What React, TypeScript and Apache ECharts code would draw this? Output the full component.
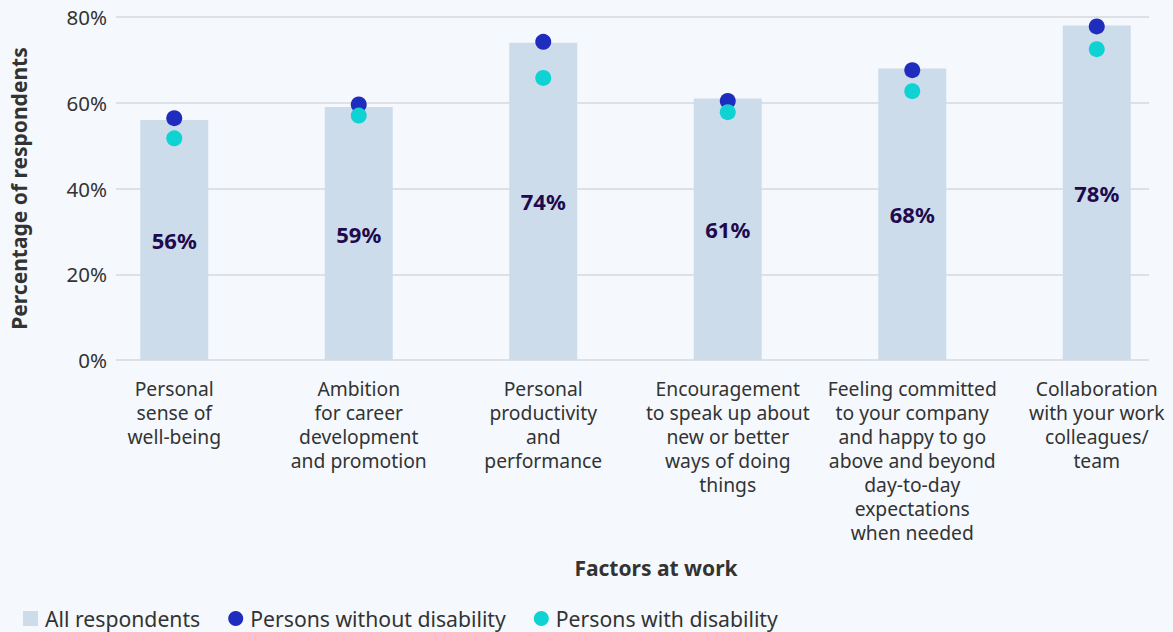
import React, { useEffect, useRef } from "react";
import * as echarts from "echarts";

const categories = [
  "Personal\nsense of\nwell-being",
  "Ambition\nfor career\ndevelopment\nand promotion",
  "Personal\nproductivity\nand\nperformance",
  "Encouragement\nto speak up about\nnew or better\nways of doing\nthings",
  "Feeling committed\nto your company\nand happy to go\nabove and beyond\nday-to-day\nexpectations\nwhen needed",
  "Collaboration\nwith your work\ncolleagues/\nteam",
];
const allRespondents = [56, 59, 74, 61, 68, 78];
const withoutDisability = [56.4, 59.6, 74.2, 60.4, 67.6, 77.8];
const withDisability = [51.7, 57.0, 65.8, 57.8, 62.7, 72.5];
const yTicks = [0, 20, 40, 60, 80];

const FONT = "'Noto Sans', sans-serif";
const W = 1210;

export default function App() {
  const ref = useRef<HTMLDivElement>(null);
  useEffect(() => {
    if (!ref.current) return;
    const chart = echarts.init(ref.current, null, { renderer: "svg" });
    const top = 17;
    const bottom = 632 - 360;
    chart.setOption({
      animation: false,
      backgroundColor: "#f5f9fd",
      textStyle: { fontFamily: FONT },
      grid: [
        { left: 116, right: W - 1149, top, bottom },
        { left: 82, right: W - 1189, top, bottom },
      ],
      legend: {
        left: 18,
        top: 603,
        itemWidth: 15,
        itemHeight: 15,
        itemGap: 28,
        textStyle: {
          fontSize: 21.2,
          color: "#333333",
          fontFamily: FONT,
          padding: [0, 0, 0, 2],
        },
        data: [
          { name: "All respondents", icon: "rect" },
          { name: "Persons without disability", icon: "circle" },
          { name: "Persons with disability", icon: "circle" },
        ],
      },
      graphic: [
        {
          type: "text",
          x: 656,
          y: 568,
          style: {
            text: "Factors at work",
            fontFamily: FONT,
            fontSize: 21,
            fontWeight: "bold",
            fill: "#333333",
            align: "center",
            verticalAlign: "middle",
          },
        },
      ],
      xAxis: [
        {
          type: "category",
          gridIndex: 0,
          data: categories,
          show: false,
        },
        {
          type: "category",
          gridIndex: 1,
          data: categories,
          axisLine: { show: false },
          axisTick: { show: false },
          axisLabel: {
            interval: 0,
            fontSize: 19.3,
            lineHeight: 24,
            color: "#333333",
            margin: 16,
            fontFamily: FONT,
          },
        },
      ],
      yAxis: [
        {
          type: "value",
          gridIndex: 0,
          min: 0,
          max: 80,
          interval: 20,
          name: "Percentage of respondents",
          nameLocation: "middle",
          nameGap: 87,
          nameTextStyle: { fontSize: 21, fontWeight: "bold", color: "#333333", fontFamily: FONT },
          axisLabel: {
            formatter: (v: number) => (yTicks.includes(v) ? v + "%" : ""),
            fontSize: 20.5,
            color: "#333333",
            margin: 9,
            fontFamily: FONT,
          },
          axisLine: { show: false },
          axisTick: { show: false },
          splitLine: { lineStyle: { color: "#d5d8dd", width: 1.5 } },
        },
        {
          type: "value",
          gridIndex: 1,
          min: 0,
          max: 80,
          interval: 20,
          show: false,
          splitLine: { show: false },
        },
      ],
      series: [
        {
          name: "All respondents",
          type: "bar",
          xAxisIndex: 1,
          yAxisIndex: 1,
          data: allRespondents,
          barWidth: 68,
          itemStyle: { color: "#cddcea" },
          label: {
            show: true,
            position: "inside",
            formatter: (p: any) => p.value + "%",
            fontSize: 22,
            fontWeight: "bold",
            color: "#1f0a4e",
            fontFamily: FONT,
          },
          z: 2,
        },
        {
          name: "Persons without disability",
          type: "scatter",
          xAxisIndex: 1,
          yAxisIndex: 1,
          data: withoutDisability,
          symbolSize: 16,
          itemStyle: { color: "#1f2dbf", opacity: 1 },
          z: 4,
        },
        {
          name: "Persons with disability",
          type: "scatter",
          xAxisIndex: 1,
          yAxisIndex: 1,
          data: withDisability,
          symbolSize: 16,
          itemStyle: { color: "#0fd3d3", opacity: 1 },
          z: 5,
        },
      ],
    });
    return () => chart.dispose();
  }, []);
  return (
    <div
      ref={ref}
      style={{ position: "fixed", left: 0, top: 0, width: W, height: 632 }}
    />
  );
}
